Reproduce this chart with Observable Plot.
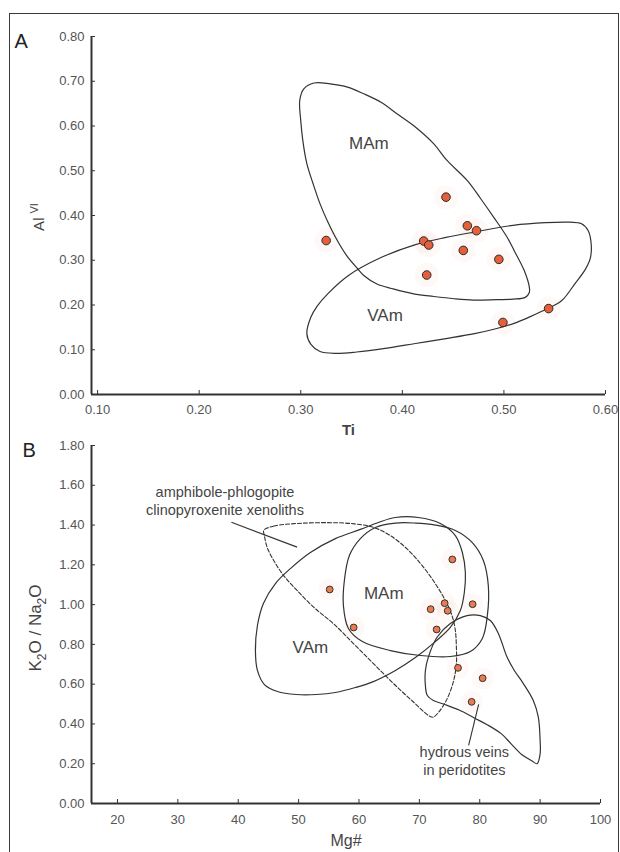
<!DOCTYPE html>
<html><head><meta charset="utf-8">
<script src="https://cdn.jsdelivr.net/npm/d3@7"></script>
<script src="https://cdn.jsdelivr.net/npm/@observablehq/plot@0.6"></script>
<style>
body{margin:0;background:#fff;}
#wrap{position:relative;width:620px;height:852px;overflow:hidden;font-family:"Liberation Sans",Arial,sans-serif;}
#frame{position:absolute;left:9px;top:13px;width:608px;height:850px;border:1.5px solid #3a3a3a;border-bottom:none;}
#pa{position:absolute;left:0;top:0;}
#pb{position:absolute;left:0;top:425px;}
</style></head><body>
<div id="wrap"><div id="frame"></div><div id="pa"></div><div id="pb"></div></div>
<script>
// ---------- Panel A data ----------
const tiTicks = [0.1, 0.2, 0.3, 0.4, 0.5, 0.6];
const alTicks = [0, 0.1, 0.2, 0.3, 0.4, 0.5, 0.6, 0.7, 0.8];
const sampleTi   = [0.325, 0.443, 0.464, 0.473, 0.421, 0.426, 0.460, 0.495, 0.424, 0.544, 0.499];
const sampleAlVI = [0.344, 0.441, 0.377, 0.366, 0.343, 0.334, 0.322, 0.302, 0.267, 0.192, 0.161];
const mamA_ti = [0.299,0.303,0.313,0.329,0.346,0.362,0.379,0.395,0.411,0.431,0.444,0.464,0.477,0.490,0.503,0.510,0.520,0.525,0.525,0.521,0.509,0.493,0.470,0.451,0.431,0.411,0.391,0.375,0.362,0.356,0.345,0.336,0.326,0.319,0.312,0.306,0.302,0.300];
const mamA_al = [0.657,0.683,0.696,0.694,0.687,0.672,0.653,0.627,0.601,0.560,0.523,0.478,0.438,0.396,0.352,0.322,0.277,0.240,0.228,0.217,0.213,0.212,0.211,0.214,0.219,0.225,0.236,0.247,0.266,0.281,0.311,0.344,0.389,0.426,0.472,0.516,0.568,0.612];
const vamA_ti = [0.306,0.310,0.316,0.327,0.347,0.379,0.413,0.443,0.471,0.509,0.541,0.565,0.576,0.583,0.586,0.585,0.580,0.570,0.557,0.543,0.526,0.510,0.492,0.471,0.443,0.413,0.383,0.355,0.335,0.319,0.310];
const vamA_al = [0.136,0.173,0.197,0.226,0.266,0.306,0.335,0.351,0.363,0.378,0.384,0.385,0.382,0.366,0.333,0.304,0.279,0.248,0.210,0.192,0.174,0.159,0.147,0.136,0.125,0.114,0.103,0.095,0.092,0.096,0.112];
const labelsA = ["MAm", "VAm"];
const labelsA_ti = [0.367, 0.383];
const labelsA_al = [0.561, 0.177];

// ---------- Panel B data ----------
const mgTicks = [20, 30, 40, 50, 60, 70, 80, 90, 100];
const kTicks = [0, 0.2, 0.4, 0.6, 0.8, 1.0, 1.2, 1.4, 1.6, 1.8];
const sampleMg = [55.15, 59.12, 75.46, 74.19, 71.87, 74.69, 78.82, 72.86, 76.40, 80.48, 78.66];
const sampleK  = [1.076, 0.885, 1.227, 1.007, 0.977, 0.969, 1.002, 0.875, 0.682, 0.630, 0.511];
const mamB_mg = [57.42,57.58,58.41,60.23,62.72,66.03,69.34,72.65,75.96,78.77,80.60,81.42,81.26,80.43,78.44,75.13,70.17,65.20,60.56,58.25];
const mamB_k  = [0.995,1.121,1.247,1.332,1.388,1.410,1.410,1.400,1.373,1.312,1.222,1.096,0.945,0.830,0.764,0.739,0.744,0.769,0.814,0.880];
const vamB_mg = [42.85,43.18,44.17,46.16,48.64,51.95,56.09,60.23,63.21,66.03,69.83,73.48,75.96,77.12,77.62,77.45,76.79,75.13,72.65,69.34,66.03,62.38,59.40,56.09,52.95,49.64,46.49,44.34,43.18];
const vamB_k  = [0.769,0.895,1.006,1.106,1.181,1.262,1.332,1.378,1.413,1.438,1.438,1.408,1.347,1.262,1.161,1.061,0.970,0.885,0.814,0.734,0.669,0.613,0.583,0.558,0.548,0.548,0.563,0.598,0.669];
const xenoB_mg = [44.22,45.88,49.75,54.16,58.58,62.44,65.20,67.96,70.44,72.65,74.30,75.41,75.96,76.13,76.13,75.68,74.59,73.20,72.27,71.55,69.06,65.75,62.44,59.12,55.81,52.50,49.75,47.53,45.88,44.78,44.34];
const xenoB_k  = [1.373,1.395,1.408,1.412,1.408,1.388,1.347,1.280,1.197,1.105,1.021,0.945,0.870,0.786,0.702,0.618,0.526,0.459,0.434,0.442,0.509,0.602,0.702,0.803,0.903,0.987,1.071,1.146,1.222,1.289,1.347];
const veinB_mg = [80.10,81.75,83.08,84.52,85.73,87.22,88.87,89.70,90.00,90.00,89.50,88.60,87.00,85.20,83.60,81.30,79.10,76.60,74.00,72.32,71.32,71.00,71.00,71.49,72.93,75.13,77.90];
const veinB_k  = [0.945,0.920,0.855,0.736,0.669,0.603,0.518,0.434,0.317,0.250,0.200,0.215,0.245,0.300,0.350,0.395,0.430,0.470,0.500,0.518,0.543,0.593,0.669,0.736,0.836,0.905,0.945];
const labelsB = ["MAm", "VAm"];
const labelsB_mg = [64.1, 51.95];
const labelsB_k  = [1.054, 0.786];
const noteB = ["amphibole-phlogopite", "clinopyroxenite xenoliths", "hydrous veins", "in peridotites"];
const noteB_mg = [37.8, 37.8, 77.45, 77.45];
const noteB_k  = [1.565, 1.473, 0.258, 0.166];
const leaderB_mg1 = [38.87, 79.82];
const leaderB_k1  = [1.414, 0.498];
const leaderB_mg2 = [49.75, 78.16];
const leaderB_k2  = [1.289, 0.292];

// ---------- helpers ----------
const zipXY = (xs, ys) => xs.map((x, i) => ({x, y: ys[i]}));
const font = "Liberation Sans, Arial, sans-serif";
const ink = "#333";
const textInk = "#454545";
const tickInk = "#555";

// ---------- Panel A ----------
const ptsA = zipXY(sampleTi, sampleAlVI);
const plotA = Plot.plot({
  width: 620, height: 450,
  marginLeft: 91, marginRight: 15, marginTop: 36, marginBottom: 56,
  style: {fontFamily: font, fontSize: "13px", color: tickInk, background: "transparent"},
  x: {domain: [0.094, 0.6], axis: null},
  y: {domain: [0, 0.8], axis: null},
  marks: [
    Plot.dot(ptsA, {x: "x", y: "y", r: 12, fill: "#f9cdbd", fillOpacity: 0.14}),
    Plot.line(zipXY(mamA_ti, mamA_al), {x: "x", y: "y", curve: "catmull-rom-closed", stroke: ink, strokeWidth: 1.2}),
    Plot.line(zipXY(vamA_ti, vamA_al), {x: "x", y: "y", curve: "catmull-rom-closed", stroke: ink, strokeWidth: 1.2}),
    Plot.text(labelsA, {x: (d, i) => labelsA_ti[i], y: (d, i) => labelsA_al[i], text: d => d, fontSize: 17, fill: textInk}),
    Plot.dot(ptsA, {x: "x", y: "y", r: 4.3, fill: "#e5603a", stroke: "#2a2a2a", strokeWidth: 1}),
    Plot.ruleY([0], {stroke: ink, strokeWidth: 2}),
    Plot.ruleX([0.094], {stroke: ink, strokeWidth: 2}),
    Plot.tickX(tiTicks, {x: d => d, insetTop: 354, stroke: ink}),
    Plot.tickY(alTicks, {y: d => d, insetRight: 510, stroke: ink}),
    Plot.axisX(tiTicks, {tickFormat: d3.format(".2f"), tickSize: 0, tickPadding: 10, label: null, fill: tickInk}),
    Plot.axisY(alTicks, {tickFormat: d3.format(".2f"), tickSize: 0, tickPadding: 7, label: null, fill: tickInk}),
    Plot.text(["Ti"], {frameAnchor: "bottom", dy: 40, fontSize: 15, fontWeight: "bold", fill: textInk}),
    Plot.text(["A"], {frameAnchor: "top-left", dx: -77, dy: -3, textAnchor: "start", fontSize: 20, fill: "#222"})
  ]
});
document.getElementById("pa").appendChild(plotA);
d3.select(plotA).append("text")
  .attr("transform", "translate(44,217) rotate(-90)")
  .attr("text-anchor", "middle").attr("fill", textInk)
  .style("font-family", font).style("font-size", "15px")
  .call(t => {
    t.append("tspan").text("Al");
    t.append("tspan").attr("dx", 4).attr("dy", -6).style("font-size", "11px").text("VI");
  });

// ---------- Panel B ----------
const ptsB = zipXY(sampleMg, sampleK);
const leaders = leaderB_mg1.map((m, i) => ({x1: m, y1: leaderB_k1[i], x2: leaderB_mg2[i], y2: leaderB_k2[i]}));
const plotB = Plot.plot({
  width: 620, height: 427,
  marginLeft: 91, marginRight: 20, marginTop: 20, marginBottom: 49,
  style: {fontFamily: font, fontSize: "13px", color: tickInk, background: "transparent"},
  x: {domain: [15.7, 100], axis: null},
  y: {domain: [0, 1.8], axis: null},
  marks: [
    Plot.dot(ptsB, {x: "x", y: "y", r: 11, fill: "#f9cdbd", fillOpacity: 0.13}),
    Plot.line(zipXY(xenoB_mg, xenoB_k), {x: "x", y: "y", curve: "catmull-rom-closed", stroke: ink, strokeWidth: 1.1, strokeDasharray: "4,2"}),
    Plot.line(zipXY(vamB_mg, vamB_k), {x: "x", y: "y", curve: "catmull-rom-closed", stroke: ink, strokeWidth: 1.2}),
    Plot.line(zipXY(mamB_mg, mamB_k), {x: "x", y: "y", curve: "catmull-rom-closed", stroke: ink, strokeWidth: 1.2}),
    Plot.line(zipXY(veinB_mg, veinB_k), {x: "x", y: "y", curve: "catmull-rom-closed", stroke: ink, strokeWidth: 1.2}),
    Plot.link(leaders, {x1: "x1", y1: "y1", x2: "x2", y2: "y2", stroke: ink, strokeWidth: 1.1}),
    Plot.text(labelsB, {x: (d, i) => labelsB_mg[i], y: (d, i) => labelsB_k[i], text: d => d, fontSize: 17, fill: textInk}),
    Plot.text(noteB, {x: (d, i) => noteB_mg[i], y: (d, i) => noteB_k[i], text: d => d, fontSize: 14.5, fill: textInk}),
    Plot.dot(ptsB, {x: "x", y: "y", r: 3.4, fill: "#ea7a50", stroke: "#333", strokeWidth: 1}),
    Plot.ruleY([0], {stroke: ink, strokeWidth: 2}),
    Plot.ruleX([15.7], {stroke: ink, strokeWidth: 2}),
    Plot.tickX(mgTicks, {x: d => d, insetTop: 354, stroke: ink}),
    Plot.tickY(kTicks, {y: d => d, insetRight: 505, stroke: ink}),
    Plot.axisX(mgTicks, {tickFormat: d => d, tickSize: 0, tickPadding: 11, label: null, fill: tickInk}),
    Plot.axisY(kTicks, {tickFormat: d3.format(".2f"), tickSize: 0, tickPadding: 7, label: null, fill: tickInk}),
    Plot.text(["Mg#"], {frameAnchor: "bottom", dy: 42, fontSize: 16, fill: textInk}),
    Plot.text(["B"], {frameAnchor: "top-left", dx: -69, dy: -3, textAnchor: "start", fontSize: 20, fill: "#222"})
  ]
});
document.getElementById("pb").appendChild(plotB);
d3.select(plotB).append("text")
  .attr("transform", "translate(41,203) rotate(-90)")
  .attr("text-anchor", "middle").attr("fill", textInk)
  .style("font-family", font).style("font-size", "17px")
  .call(t => {
    t.append("tspan").text("K");
    t.append("tspan").attr("dy", 5).style("font-size", "12px").text("2");
    t.append("tspan").attr("dy", -5).text("O / Na");
    t.append("tspan").attr("dy", 5).style("font-size", "12px").text("2");
    t.append("tspan").attr("dy", -5).text("O");
  });
</script>
</body></html>
